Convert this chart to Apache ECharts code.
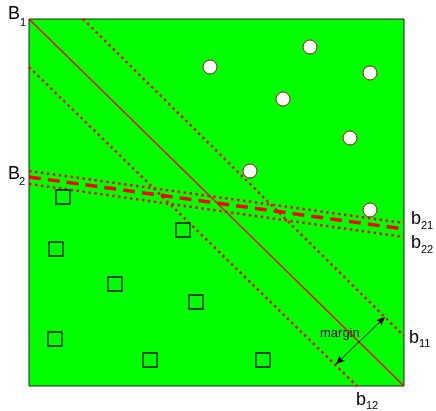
<html>
<head>
<meta charset="utf-8">
<script src="https://cdn.jsdelivr.net/npm/echarts@6/dist/echarts.min.js"></script>
<style>
  body { margin:0; background:#fff; }
  #chart { width:436px; height:411px; }
</style>
</head>
<body>
<div id="chart"></div>
<script>
// class 1 points (circles) and class 2 points (squares), frame units
var circles = [[181,319],[281,339],[341,313],[254,287],[321,248],[221,215],[341,176]];
var squares = [[34,189],[154,156],[27,137],[86,102],[167,84],[26,47],[121,26],[234,26]];

// decision boundaries, each as two end points
var lineB1  = [[0,367],[375,0]];
var lineB11 = [[54,367],[375,50]];
var lineB12 = [[0,319],[328,0]];
var lineB2  = [[0,209],[375,157]];
var lineB21 = [[0,215],[375,163]];
var lineB22 = [[0,202],[375,149]];
var marginArrow = [[307,22],[356,69]];

var red = '#ff0000';
var dot = { type:[2.5,3.5], width:2.5, color:red, cap:'butt' };
var FONT = '"Liberation Sans", Arial, sans-serif';

function seg(name, pts, style){
	return {
		name: name, type:'line', data: pts, showSymbol:false, symbol:'none',
		lineStyle: style, silent:true, z:2
	};
}

// label with subscript: main letter + small index
function lab(main, sub, x, y, sx, sy){
	return [
		{ type:'text', left:x, top:y, style:{ text:main, font:'18px ' + FONT, fill:'#000' } },
		{ type:'text', left:sx, top:sy, style:{ text:sub, font:'11px ' + FONT, fill:'#000' } }
	];
}

var myChart = echarts.init(document.getElementById('chart'));
var option = {
	animation:false,
	grid: { left:29, top:19, width:375, height:367, show:true, backgroundColor:'#00ff00', borderColor:'#222', borderWidth:1 },
	xAxis: { type:'value', min:0, max:375, show:false },
	yAxis: { type:'value', min:0, max:367, show:false },
	series: [
		seg('B1', lineB1, { type:'solid', width:1.5, color:red }),
		seg('b11', lineB11, dot),
		seg('b12', lineB12, dot),
		seg('B2', lineB2, { type:[12,7], width:3.5, color:red, cap:'butt' }),
		seg('b21', lineB21, dot),
		seg('b22', lineB22, dot),
		{
			name:'margin', type:'line', data:[], silent:true,
			markLine: {
				silent:true, symbol:['arrow','arrow'], symbolSize:[6,9],
				lineStyle:{ color:'#000', width:1, type:'solid' },
				label:{ show:false },
				data: [[{ coord: marginArrow[0] }, { coord: marginArrow[1] }]]
			}
		},
		{
			name:'circles', type:'scatter', data:circles, symbol:'circle', symbolSize:14, z:5,
			itemStyle:{ color:'#ffffff', borderColor:'#8b1a1a', borderWidth:1, opacity:1 }
		},
		{
			name:'squares', type:'scatter', data:squares, symbol:'rect', symbolSize:14, z:5,
			itemStyle:{ color:'rgba(0,0,0,0)', borderColor:'#111', borderWidth:1.3, opacity:1 }
		}
	],
	graphic: [].concat(
		lab('B','1', 8, 5, 20, 17),
		lab('B','2', 8, 165, 19, 176),
		lab('b','21', 411, 210, 421, 220),
		lab('b','22', 411, 234, 421, 244),
		lab('b','11', 409, 329, 419, 338),
		lab('b','12', 356, 391, 366, 400),
		[{ type:'text', left:320, top:327, style:{ text:'margin', font:'13px ' + FONT, fill:'#000' } }]
	)
};
myChart.setOption(option);
</script>
</body>
</html>
